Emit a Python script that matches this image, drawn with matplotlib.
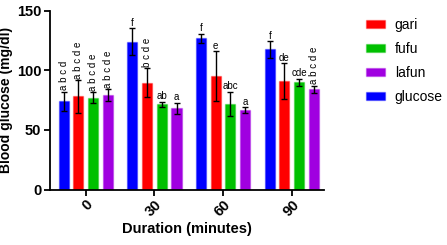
import numpy as np
import matplotlib
matplotlib.use('Agg')
import matplotlib.pyplot as plt

plt.rcParams['font.family'] = ['Liberation Sans', 'DejaVu Sans']

# ─── Data ─────────────────────────────────────────────────────────────────────

durations = ['0', '30', '60', '90']
series    = ['glucose', 'gari', 'fufu', 'lafun']
colors    = ['#0000FF', '#FF0000', '#00C000', '#A000E0']

glucose_mean = [74, 124, 126.7, 117.5]
glucose_err  = [8, 11, 3.8, 7]
gari_mean    = [78, 89.5, 95, 91]
gari_err     = [13.5, 12, 21, 15]
fufu_mean    = [77, 71.5, 72, 90]
fufu_err     = [4.3, 2, 10, 3]
lafun_mean   = [79, 68, 66.4, 84]
lafun_err    = [5, 4.6, 2.7, 3]

glucose_lbl = ['a b c d', 'f', 'f', 'f']
gari_lbl    = ['a b c d e', 'b c d e', 'e', 'de']
fufu_lbl    = ['a b c d e', 'ab', 'abc', 'cde']
lafun_lbl   = ['a b c d e', 'a', 'a', 'a b c d e']

means  = [glucose_mean, gari_mean, fufu_mean, lafun_mean]
errs   = [glucose_err, gari_err, fufu_err, lafun_err]
labels = [glucose_lbl, gari_lbl, fufu_lbl, lafun_lbl]

# ─── Plot ─────────────────────────────────────────────────────────────────────

fig = plt.figure(figsize=(4.47, 2.45), dpi=100)
ax = fig.add_axes([0.111, 0.2265, 0.614, 0.7306])

x = np.arange(len(durations))
step, width = 0.214, 0.146

handles = {}
for i, name in enumerate(series):
    xs = x + (i - 1.5) * step
    b = ax.bar(xs, means[i], width, color=colors[i],
               edgecolor=colors[i] + '55', linewidth=1.0, label=name)
    handles[name] = b
    ax.errorbar(xs, means[i], yerr=errs[i], fmt='none', ecolor='black',
                elinewidth=1.0, capsize=2.2, capthick=1.0)
    for xx, m, e, t in zip(xs, means[i], errs[i], labels[i]):
        if ' ' in t:
            # vertical letters, starting just above the error bar
            ax.annotate(t, (xx, m + e), xytext=(0, 1.0), textcoords='offset points',
                        ha='left', va='center', rotation=90,
                        rotation_mode='anchor', fontsize=7)
        else:
            ax.annotate(t, (xx, m + e), xytext=(0, 0.3), textcoords='offset points',
                        ha='center', va='bottom', fontsize=7)

ax.set_xlim(-0.527, 3.47)
ax.set_ylim(0, 150)
ax.set_yticks([0, 50, 100, 150])
ax.set_xticks(x)
ax.set_xticklabels(durations, rotation=45, ha='right', rotation_mode='anchor')

for lab in ax.get_xticklabels() + ax.get_yticklabels():
    lab.set_fontweight('bold')
    lab.set_fontsize(10.5)

ax.spines['top'].set_visible(False)
ax.spines['right'].set_visible(False)
ax.spines['left'].set_linewidth(1.3)
ax.spines['bottom'].set_linewidth(1.3)
ax.tick_params(width=1.3, length=4, pad=2)

ax.set_ylabel('Blood glucose (mg/dl)', fontweight='bold', fontsize=10, labelpad=3)
ax.set_xlabel('Duration (minutes)', fontweight='bold', fontsize=10.5, labelpad=2)

order = ['gari', 'fufu', 'lafun', 'glucose']
fig.legend([handles[n] for n in order], order, loc='upper left',
           bbox_to_anchor=(0.79, 0.978), frameon=False, fontsize=10,
           handlelength=1.4, handleheight=0.6, labelspacing=0.72,
           handletextpad=0.7)

plt.savefig('out.png', dpi=100)
plt.close()
